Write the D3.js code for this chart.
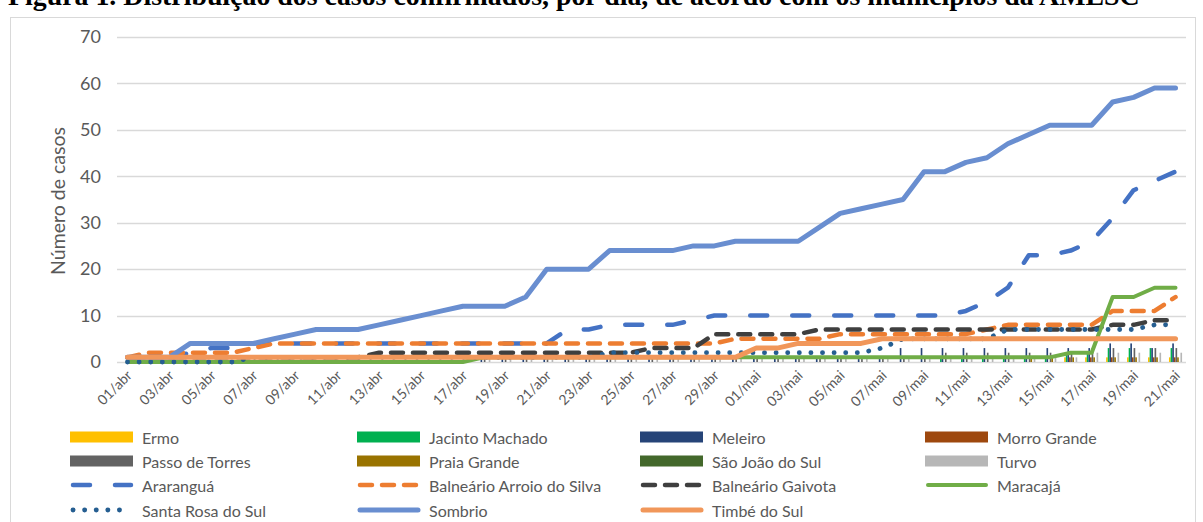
<!DOCTYPE html>
<html><head><meta charset="utf-8">
<script src="https://cdn.jsdelivr.net/npm/d3@7"></script>
<style>body{margin:0;background:#fff}svg{display:block}</style>
</head><body>
<svg id="chart" width="1203" height="522"></svg>
<script>
const categories = ["01/abr","02/abr","03/abr","04/abr","05/abr","06/abr","07/abr","08/abr","09/abr","10/abr",
"11/abr","12/abr","13/abr","14/abr","15/abr","16/abr","17/abr","18/abr","19/abr","20/abr",
"21/abr","22/abr","23/abr","24/abr","25/abr","26/abr","27/abr","28/abr","29/abr","30/abr",
"01/mai","02/mai","03/mai","04/mai","05/mai","06/mai","07/mai","08/mai","09/mai","10/mai",
"11/mai","12/mai","13/mai","14/mai","15/mai","16/mai","17/mai","18/mai","19/mai","20/mai","21/mai"];
const xTickLabels = ["01/abr","03/abr","05/abr","07/abr","09/abr","11/abr","13/abr","15/abr","17/abr","19/abr",
"21/abr","23/abr","25/abr","27/abr","29/abr","01/mai","03/mai","05/mai","07/mai","09/mai","11/mai","13/mai",
"15/mai","17/mai","19/mai","21/mai"];
const yTicks = [0,10,20,30,40,50,60,70];

// bar series (clustered columns)
const ermo         = [0,0,0,0,0,0,0,0,0,0,0,0,0,0,0,0,0,0,0,0,0,0,0,0,0,0,0,0,0,0,0,0,0,0,0,0,0,0,0,0,0,0,0,0,0,1,1,1,1,1,1];
const jacinto      = [0,0,0,0,0,0,0,0,0,0,0,0,0,0,0,0,0,0,0,0,0,0,0,0,0,0,0,0,0,0,0,0,0,0,0,0,0,0,0,1,1,1,1,1,1,2,2,3,3,3,3];
const meleiro      = [0,0,0,0,0,0,0,0,0,0,0,0,0,0,0,0,0,1,1,1,1,1,1,1,1,1,1,1,1,1,1,1,1,1,1,1,1,3,3,3,3,3,3,3,3,3,3,4,4,3,4];
const morroGrande  = [0,0,0,0,0,0,0,0,0,0,0,0,0,0,0,0,0,0,0,0,0,0,0,0,0,0,0,0,0,0,0,0,0,0,0,0,0,0,0,0,0,0,0,0,0,1,1,1,1,1,1];
const passoTorres  = [0,0,0,0,0,0,0,0,0,0,0,0,0,0,0,0,0,1,1,1,1,1,1,1,1,1,1,1,1,1,1,1,1,1,1,1,1,1,1,2,2,2,2,2,2,2,3,3,3,3,3];
const praiaGrande  = [0,0,0,0,0,0,0,0,0,0,0,0,0,0,0,0,0,0,0,0,0,0,0,0,0,0,0,0,0,0,0,0,0,0,0,0,0,0,0,0,0,0,0,1,1,1,1,1,1,1,1];
const saoJoao      = [0,0,0,0,0,0,0,0,0,0,0,0,0,0,0,0,0,0,0,0,0,0,0,0,0,0,0,0,0,0,0,0,0,0,0,0,0,0,0,0,0,0,0,0,0,0,0,0,0,0,0];
const turvo        = [0,0,0,0,0,0,0,0,0,0,0,0,0,0,0,0,0,1,1,1,1,1,1,1,1,1,1,1,1,1,1,1,1,1,1,1,1,1,1,1,1,1,1,1,1,1,2,2,2,2,2];

// line series
const ararangua    = [1,1,1,2,3,3,4,4,4,4,4,4,4,4,4,4,4,4,4,4,4,7,7,8,8,8,8,9,10,10,10,10,10,10,10,10,10,10,10,10,11,13,16,23,23,24,26,31,37,39,41];
const arroioSilva  = [1,2,2,2,2,2,3,4,4,4,4,4,4,4,4,4,4,4,4,4,4,4,4,4,4,4,4,4,4,5,5,5,5,5,6,6,6,6,6,6,6,7,8,8,8,8,8,11,11,11,14];
const gaivota      = [1,1,1,1,1,1,1,1,1,1,1,1,2,2,2,2,2,2,2,2,2,2,2,2,2,3,3,3,6,6,6,6,6,7,7,7,7,7,7,7,7,7,7,7,7,7,7,8,8,9,9];
const maracaja     = [0,0,0,0,0,0,0,0,0,0,0,0,0,0,0,0,0,1,1,1,1,1,1,1,1,1,1,1,1,1,1,1,1,1,1,1,1,1,1,1,1,1,1,1,1,2,2,14,14,16,16];
const santaRosa    = [0,0,0,0,0,0,1,1,1,1,1,1,1,1,1,1,1,1,1,1,1,1,1,2,2,2,2,2,2,2,2,2,2,2,2,2,3,5,5,5,5,5,7,7,7,7,7,7,7,8,8];
const sombrio      = [1,1,1,4,4,4,4,5,6,7,7,7,8,9,10,11,12,12,12,14,20,20,20,24,24,24,24,25,25,26,26,26,26,29,32,33,34,35,41,41,43,44,47,49,51,51,51,56,57,59,59];
const timbe        = [1,1,1,1,1,1,1,1,1,1,1,1,1,1,1,1,1,1,1,1,1,1,1,1,1,1,1,1,1,1,3,3,4,4,4,4,5,5,5,5,5,5,5,5,5,5,5,5,5,5,5];

const barNames  = ["Ermo","Jacinto Machado","Meleiro","Morro Grande","Passo de Torres","Praia Grande","São João do Sul","Turvo"];
const barValues = [ermo,jacinto,meleiro,morroGrande,passoTorres,praiaGrande,saoJoao,turvo];
const barColors = ["#FFC000","#00B050","#264478","#9E480E","#636363","#997300","#43682B","#B7B7B7"];

const lineNames  = ["Araranguá","Balneário Arroio do Silva","Balneário Gaivota","Maracajá","Santa Rosa do Sul","Sombrio","Timbé do Sul"];
const lineValues = [ararangua,arroioSilva,gaivota,maracaja,santaRosa,sombrio,timbe];
const lineColors = ["#4472C4","#ED7D31","#3F3F3F","#70AD47","#255E91","#698ED0","#F1975A"];
const lineDash   = ["17,25","12,10","12,10",null,"0.1,11.5",null,null];
const lineWidth  = [4.5,4.5,4.5,4,4.8,5,5];

const svg = d3.select("#chart");
const font = "Lato, 'Open Sans', sans-serif";
const textColor = "#595959";

// title (cut off at top, as in the source figure)
const title = svg.append("text")
  .attr("x", 8).attr("y", 5)
  .attr("font-family", "'Liberation Serif', 'Times New Roman', serif")
  .attr("font-weight", "bold").attr("font-size", 20)
  .attr("fill", "#000")
  .text("Figura 1. Distribuição dos casos confirmados, por dia, de acordo com os municípios da AMESC");
const tw = title.node().getComputedTextLength();
title.attr("font-size", 20 * 1132 / tw);

// chart border
svg.append("rect").attr("x", 10.5).attr("y", 17.5).attr("width", 1185).attr("height", 520)
  .attr("fill", "none").attr("stroke", "#D9D9D9").attr("stroke-width", 1);

const x = d3.scaleBand().domain(categories).range([117, 1186]).paddingInner(0).paddingOuter(0);
const y = d3.scaleLinear().domain([0, 70]).range([362, 37]);
const xc = d => x(d) + x.bandwidth() / 2;

// gridlines
svg.append("g").selectAll("line").data(yTicks).join("line")
  .attr("x1", 117).attr("x2", 1186)
  .attr("y1", d => Math.round(y(d)) + 0.5).attr("y2", d => Math.round(y(d)) + 0.5)
  .attr("stroke", "#D9D9D9").attr("stroke-width", 1.3);

// y axis
const yAxis = svg.append("g").attr("transform", "translate(117,0)")
  .call(d3.axisLeft(y).tickValues(yTicks).tickSize(0).tickPadding(16));
yAxis.select(".domain").remove();
yAxis.selectAll("text").attr("font-family", font).attr("font-size", 18).attr("fill", textColor);

svg.append("text").attr("transform", "translate(57,201) rotate(-90)")
  .attr("text-anchor", "middle").attr("dominant-baseline", "central")
  .attr("font-family", font).attr("font-size", 19.5).attr("fill", textColor)
  .text("Número de casos");

// x axis
const xAxis = svg.append("g").attr("transform", "translate(0,362)")
  .call(d3.axisBottom(x).tickValues(xTickLabels).tickSize(0));
xAxis.select(".domain").remove();
xAxis.selectAll("text").attr("font-family", font).attr("font-size", 14).attr("fill", textColor)
  .attr("text-anchor", "end").attr("y", 0).attr("dy", "0.35em")
  .attr("transform", "translate(2,11) rotate(-45)");

// bars
const xInner = d3.scaleBand().domain(barNames).range([0, x.bandwidth()]).paddingOuter(2.4).paddingInner(0);
const barG = svg.append("g");
barNames.forEach((name, k) => {
  barG.append("g").selectAll("rect").data(categories.map((c, i) => ({c, v: barValues[k][i]})).filter(d => d.v > 0))
    .join("rect")
    .attr("x", d => x(d.c) + xInner(name))
    .attr("width", xInner.bandwidth())
    .attr("y", d => y(d.v)).attr("height", d => y(0) - y(d.v))
    .attr("fill", barColors[k]);
});

// lines
const lineGen = d3.line().x((d, i) => xc(categories[i])).y(d => y(d));
lineNames.forEach((name, k) => {
  const p = svg.append("path").datum(lineValues[k])
    .attr("d", lineGen).attr("fill", "none")
    .attr("stroke", lineColors[k]).attr("stroke-width", lineWidth[k])
    .attr("stroke-linecap", "round").attr("stroke-linejoin", "round");
  if (lineDash[k]) p.attr("stroke-dasharray", lineDash[k]);
});

// legend
const legendItems = [
  ...barNames.map((n, k) => ({name: n, type: "bar", color: barColors[k]})),
  ...lineNames.map((n, k) => ({name: n, type: "line", color: lineColors[k], dash: lineDash[k], w: lineWidth[k]}))
];
const colX = [70, 357, 640, 925];
const rowY = [437, 461, 485, 510];
const lg = svg.append("g");
legendItems.forEach((it, idx) => {
  const cx = colX[idx % 4], cy = rowY[Math.floor(idx / 4)];
  if (it.type === "bar") {
    lg.append("rect").attr("x", cx).attr("y", cy - 5.5).attr("width", 63).attr("height", 11).attr("fill", it.color);
  } else {
    const l = lg.append("line").attr("x1", cx + 3).attr("x2", cx + 61).attr("y1", cy).attr("y2", cy)
      .attr("stroke", it.color).attr("stroke-width", it.w).attr("stroke-linecap", "round");
    if (it.dash) l.attr("stroke-dasharray", it.dash);
  }
  lg.append("text").attr("x", cx + 72).attr("y", cy).attr("dominant-baseline", "central")
    .attr("font-family", font).attr("font-size", 16).attr("fill", textColor).text(it.name);
});
</script>
</body></html>
